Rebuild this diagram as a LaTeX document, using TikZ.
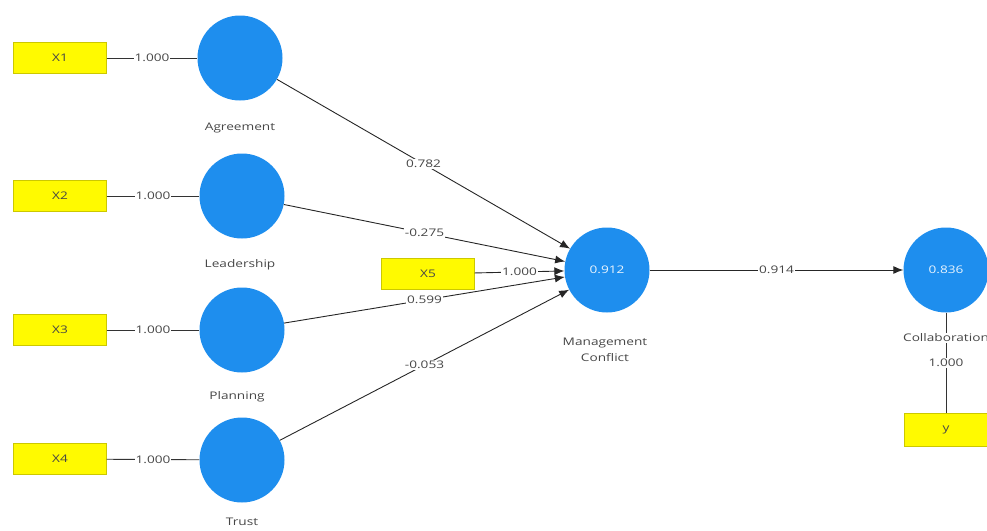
\documentclass[tikz,border=0pt]{standalone}
\usepackage{fontspec}
\setmainfont[FakeStretch=1.3]{Open Sans}
\usetikzlibrary{arrows.meta}
\definecolor{lvblue}{RGB}{30,142,238}
\definecolor{mvyellow}{RGB}{255,250,0}
\definecolor{txtgray}{RGB}{70,70,70}
\begin{document}
\begin{tikzpicture}[x=1pt,y=-1pt,
  every node/.style={font=\fontsize{10.5}{16}\selectfont, text=txtgray},
  latent/.style={circle, fill=lvblue, minimum size=85pt, inner sep=0pt, text=white!90!lvblue},
  indicator/.style={rectangle, fill=mvyellow, draw=mvyellow!80!black, line width=0.4pt,
    minimum width=93pt, minimum height=31pt, inner sep=0pt},
  loading/.style={draw=black!80, line width=0.9pt},
  path/.style={draw=black!85, line width=0.9pt, -{Latex[length=10pt,width=8pt]}},
  coef/.style={fill=white, inner sep=1pt, pos=0.5},
  cname/.style={text=txtgray, align=center}]
\clip (0,0) rectangle (987,530);

% latent variables
\node[latent] (agr) at (240,58) {};
\node[latent] (lead) at (242,196) {};
\node[latent] (plan) at (242,330) {};
\node[latent] (trust) at (242,460) {};
\node[latent] (mc) at (607,270) {0.912};
\node[latent] (col) at (946,270) {0.836};

% indicators
\node[indicator] (x1) at (60,58) {X1};
\node[indicator] (x2) at (60,196) {X2};
\node[indicator] (x3) at (60,330) {X3};
\node[indicator] (x4) at (60,459) {X4};
\node[indicator] (x5) at (428,274) {X5};
\node[indicator, minimum width=84pt, minimum height=33pt] (y) at (946,430) {y};

% outer loadings
\draw[loading] (x1) -- node[coef] {1.000} (agr);
\draw[loading] (x2) -- node[coef] {1.000} (lead);
\draw[loading] (x3) -- node[coef] {1.000} (plan);
\draw[loading] (x4) -- node[coef] {1.000} (trust);
\draw[loading] (col) -- node[coef, pos=0.5] {1.000} (y);

% path coefficients
\draw[path] (agr) -- node[coef] {0.782} (mc);
\draw[path] (lead) -- node[coef] {-0.275} (mc);
\draw[path] (x5) -- node[coef] {1.000} (mc);
\draw[path] (plan) -- node[coef] {0.599} (mc);
\draw[path] (trust) -- node[coef] {-0.053} (mc);
\draw[path] (mc) -- node[coef] {0.914} (col);

% construct names
\node[cname] (agrlbl) at (240,128) {Agreement};
\node[cname] (leadlbl) at (240,265) {Leadership};
\node[cname] (planlbl) at (237,397) {Planning};
\node[cname] (trustlbl) at (242,522) {Trust};
\node[cname] (mclbl) at (605,350) {Management\\Conflict};
\node[cname, fill=white, inner sep=1pt] (collbl) at (946,338) {Collaboration};
\end{tikzpicture}
\end{document}
